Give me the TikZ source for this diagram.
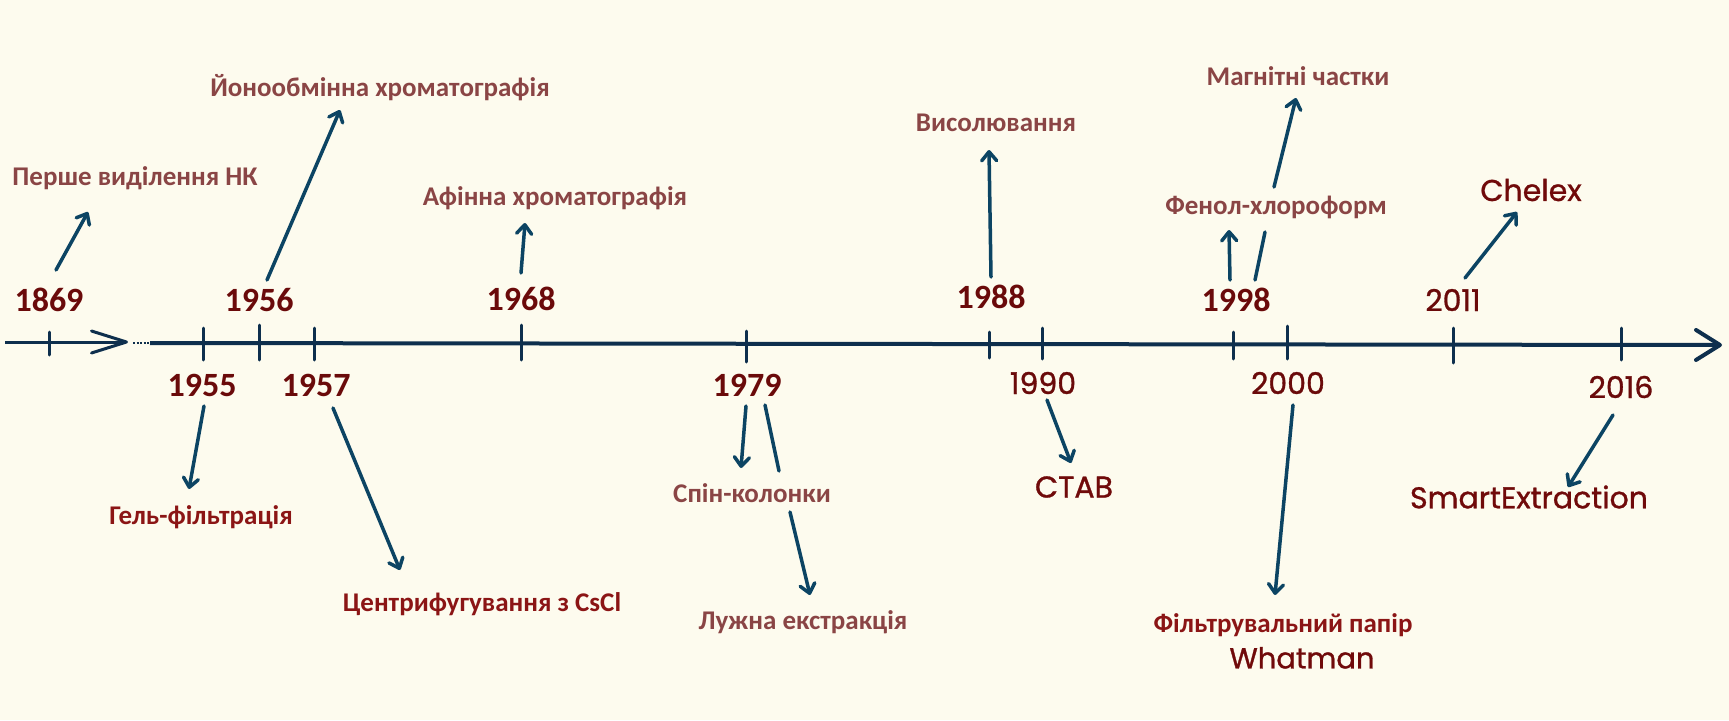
\documentclass[tikz,border=0pt]{standalone}
\usepackage{fontspec}
\setmainfont{Carlito}
\newfontfamily\canvafont[FakeBold=1]{Poppins}
\usetikzlibrary{arrows.meta}
\usetikzlibrary{positioning}

\definecolor{paper}{HTML}{FDFBEE}
\definecolor{axisblue}{HTML}{0E2F4D}
\definecolor{arrowblue}{HTML}{0C4463}
\definecolor{yearred}{HTML}{6A0A0A}
\definecolor{evbrown}{HTML}{8A4545}
\definecolor{evred}{HTML}{8B1515}
\definecolor{latinred}{HTML}{700A0A}

\begin{document}
\begin{tikzpicture}
                [x=1pt, y=-1pt,
                 every node/.style={inner sep=0pt},
                 year/.style={font=\bfseries\fontsize{34}{36}\selectfont, text=yearred},
                 newyear/.style={font=\canvafont\fontsize{30}{32}\selectfont, text=yearred},
                 event/.style={font=\bfseries\fontsize{27}{29}\selectfont, text=evbrown},
                 eventred/.style={event, text=evred},
                 latin/.style={font=\canvafont\fontsize{30}{32}\selectfont, text=latinred},
                 tick/.style={draw=axisblue, line width=3pt, line cap=round},
                 pointer/.style={draw=arrowblue, line width=3.5pt, line cap=round,
                                 -{Straight Barb[length=9pt, width=15pt, round]}}]
                \fill[paper] (0,0) rectangle (1729,720);
                \useasboundingbox (0,0) rectangle (1729,720);
                % time axis
                \coordinate (start) at (5,342);
                \coordinate (cut) at (128,342);
                \coordinate (dots) at (133,343);
                \coordinate (resume) at (150,343);
                \coordinate (finish) at (1722,345);
                \draw[axisblue, line width=3pt,
                      -{Straight Barb[length=35pt, width=22pt, round]}] (start) -- (cut);
                \draw[axisblue, line width=2.5pt, dash pattern=on 2pt off 1.5pt] (dots) -- (resume);
                \draw[axisblue, line width=4pt,
                      -{Straight Barb[length=24pt, width=30pt, round]}] (resume) -- (finish);
                % ticks
                \draw[tick] (49,332) -- (49,355);
                \draw[tick] (203,328) -- (203,360);
                \draw[tick] (259,325) -- (259,360);
                \draw[tick] (314,328) -- (314,360);
                \draw[tick] (521,325) -- (521,360);
                \draw[tick] (746,331) -- (746,362);
                \draw[tick] (989,332) -- (989,358);
                \draw[tick] (1042,328) -- (1042,359);
                \draw[tick] (1233,332) -- (1233,359);
                \draw[tick] (1287,326) -- (1287,359);
                \draw[tick] (1453,328) -- (1453,363);
                \draw[tick] (1621,328) -- (1621,360);
                % years
                \node[year] (y1869) at (49,300) {1869};
                \node[year] (y1955) at (202,385) {1955};
                \node[year] (y1956) at (259,300) {1956};
                \node[year] (y1957) at (316,385) {1957};
                \node[year] (y1968) at (521,299) {1968};
                \node[year] (y1979) at (747,385) {1979};
                \node[year] (y1988) at (991,297) {1988};
                \node[newyear] (y1990) at (1043,383) {1990};
                \node[year] (y1998) at (1236,300) {1998};
                \node[newyear] (y2000) at (1288,383) {2000};
                \node[newyear] (y2011) at (1453,300) {2011};
                \node[newyear] (y2016) at (1621,387) {2016};
                % methods
                \node[event] (nk) at (135,178) {Перше виділення НК};
                \node[event] (ion) at (380,88) {Йонообмінна хроматографія};
                \node[event] (afin) at (555,198) {Афінна хроматографія};
                \node[event] (salt) at (996,123) {Висолювання};
                \node[event] (magn) at (1298,76) {Магнітні частки};
                \node[event] (phen) at (1276,207) {Фенол-хлороформ};
                \node[latin] (chelex) at (1531,190) {Chelex};
                \node[eventred] (gel) at (201,517) {Гель-фільтрація};
                \node[eventred] (cscl) at (482,604) {Центрифугування з CsCl};
                \node[event] (spin) at (752,493) {Спін-колонки};
                \node[event] (alk) at (803,622) {Лужна екстракція};
                \node[latin] (ctab) at (1074,487) {CTAB};
                \node[latin] (smart) at (1529,497) {SmartExtraction};
                \node[eventred] (paper) at (1283,625) {Фільтрувальний папір};
                \node[latin, font=\canvafont\fontsize{29}{31}\selectfont] (whatman) [below=10pt of paper, xshift=19pt] {Whatman};
                % pointers
                \coordinate (a1) at (56,270);   \coordinate (b1) at (88,212);
                \coordinate (a2) at (267,280);  \coordinate (b2) at (340,110);
                \coordinate (a3) at (521,273);  \coordinate (b3) at (525,223);
                \coordinate (a4) at (204,406);  \coordinate (b4) at (189,489);
                \coordinate (a5) at (333,408);  \coordinate (b5) at (400,570);
                \coordinate (a6) at (746,406);  \coordinate (b6) at (741,468);
                \coordinate (a7) at (765,405);  \coordinate (b7) at (779,471);
                \coordinate (a8) at (790,512);  \coordinate (b8) at (810,595);
                \coordinate (a9) at (991,277);  \coordinate (b9) at (989,150);
                \coordinate (a10) at (1047,400); \coordinate (b10) at (1071,463);
                \coordinate (a11) at (1230,280); \coordinate (b11) at (1229,230);
                \coordinate (a12) at (1255,280); \coordinate (b12) at (1265,232);
                \coordinate (a13) at (1274,187); \coordinate (b13) at (1296,98);
                \coordinate (a14) at (1293,405); \coordinate (b14) at (1275,595);
                \coordinate (a15) at (1465,278); \coordinate (b15) at (1517,212);
                \coordinate (a16) at (1613,415); \coordinate (b16) at (1568,487);
                \draw[pointer] (a1) -- (b1);
                \draw[pointer] (a2) -- (b2);
                \draw[pointer] (a3) -- (b3);
                \draw[pointer] (a4) -- (b4);
                \draw[pointer] (a5) -- (b5);
                \draw[pointer] (a6) -- (b6);
                \draw[pointer, -] (a7) -- (b7);
                \draw[pointer] (a8) -- (b8);
                \draw[pointer] (a9) -- (b9);
                \draw[pointer] (a10) -- (b10);
                \draw[pointer] (a11) -- (b11);
                \draw[pointer, -] (a12) -- (b12);
                \draw[pointer] (a13) -- (b13);
                \draw[pointer] (a14) -- (b14);
                \draw[pointer] (a15) -- (b15);
                \draw[pointer] (a16) -- (b16);
            \end{tikzpicture}
\end{document}
